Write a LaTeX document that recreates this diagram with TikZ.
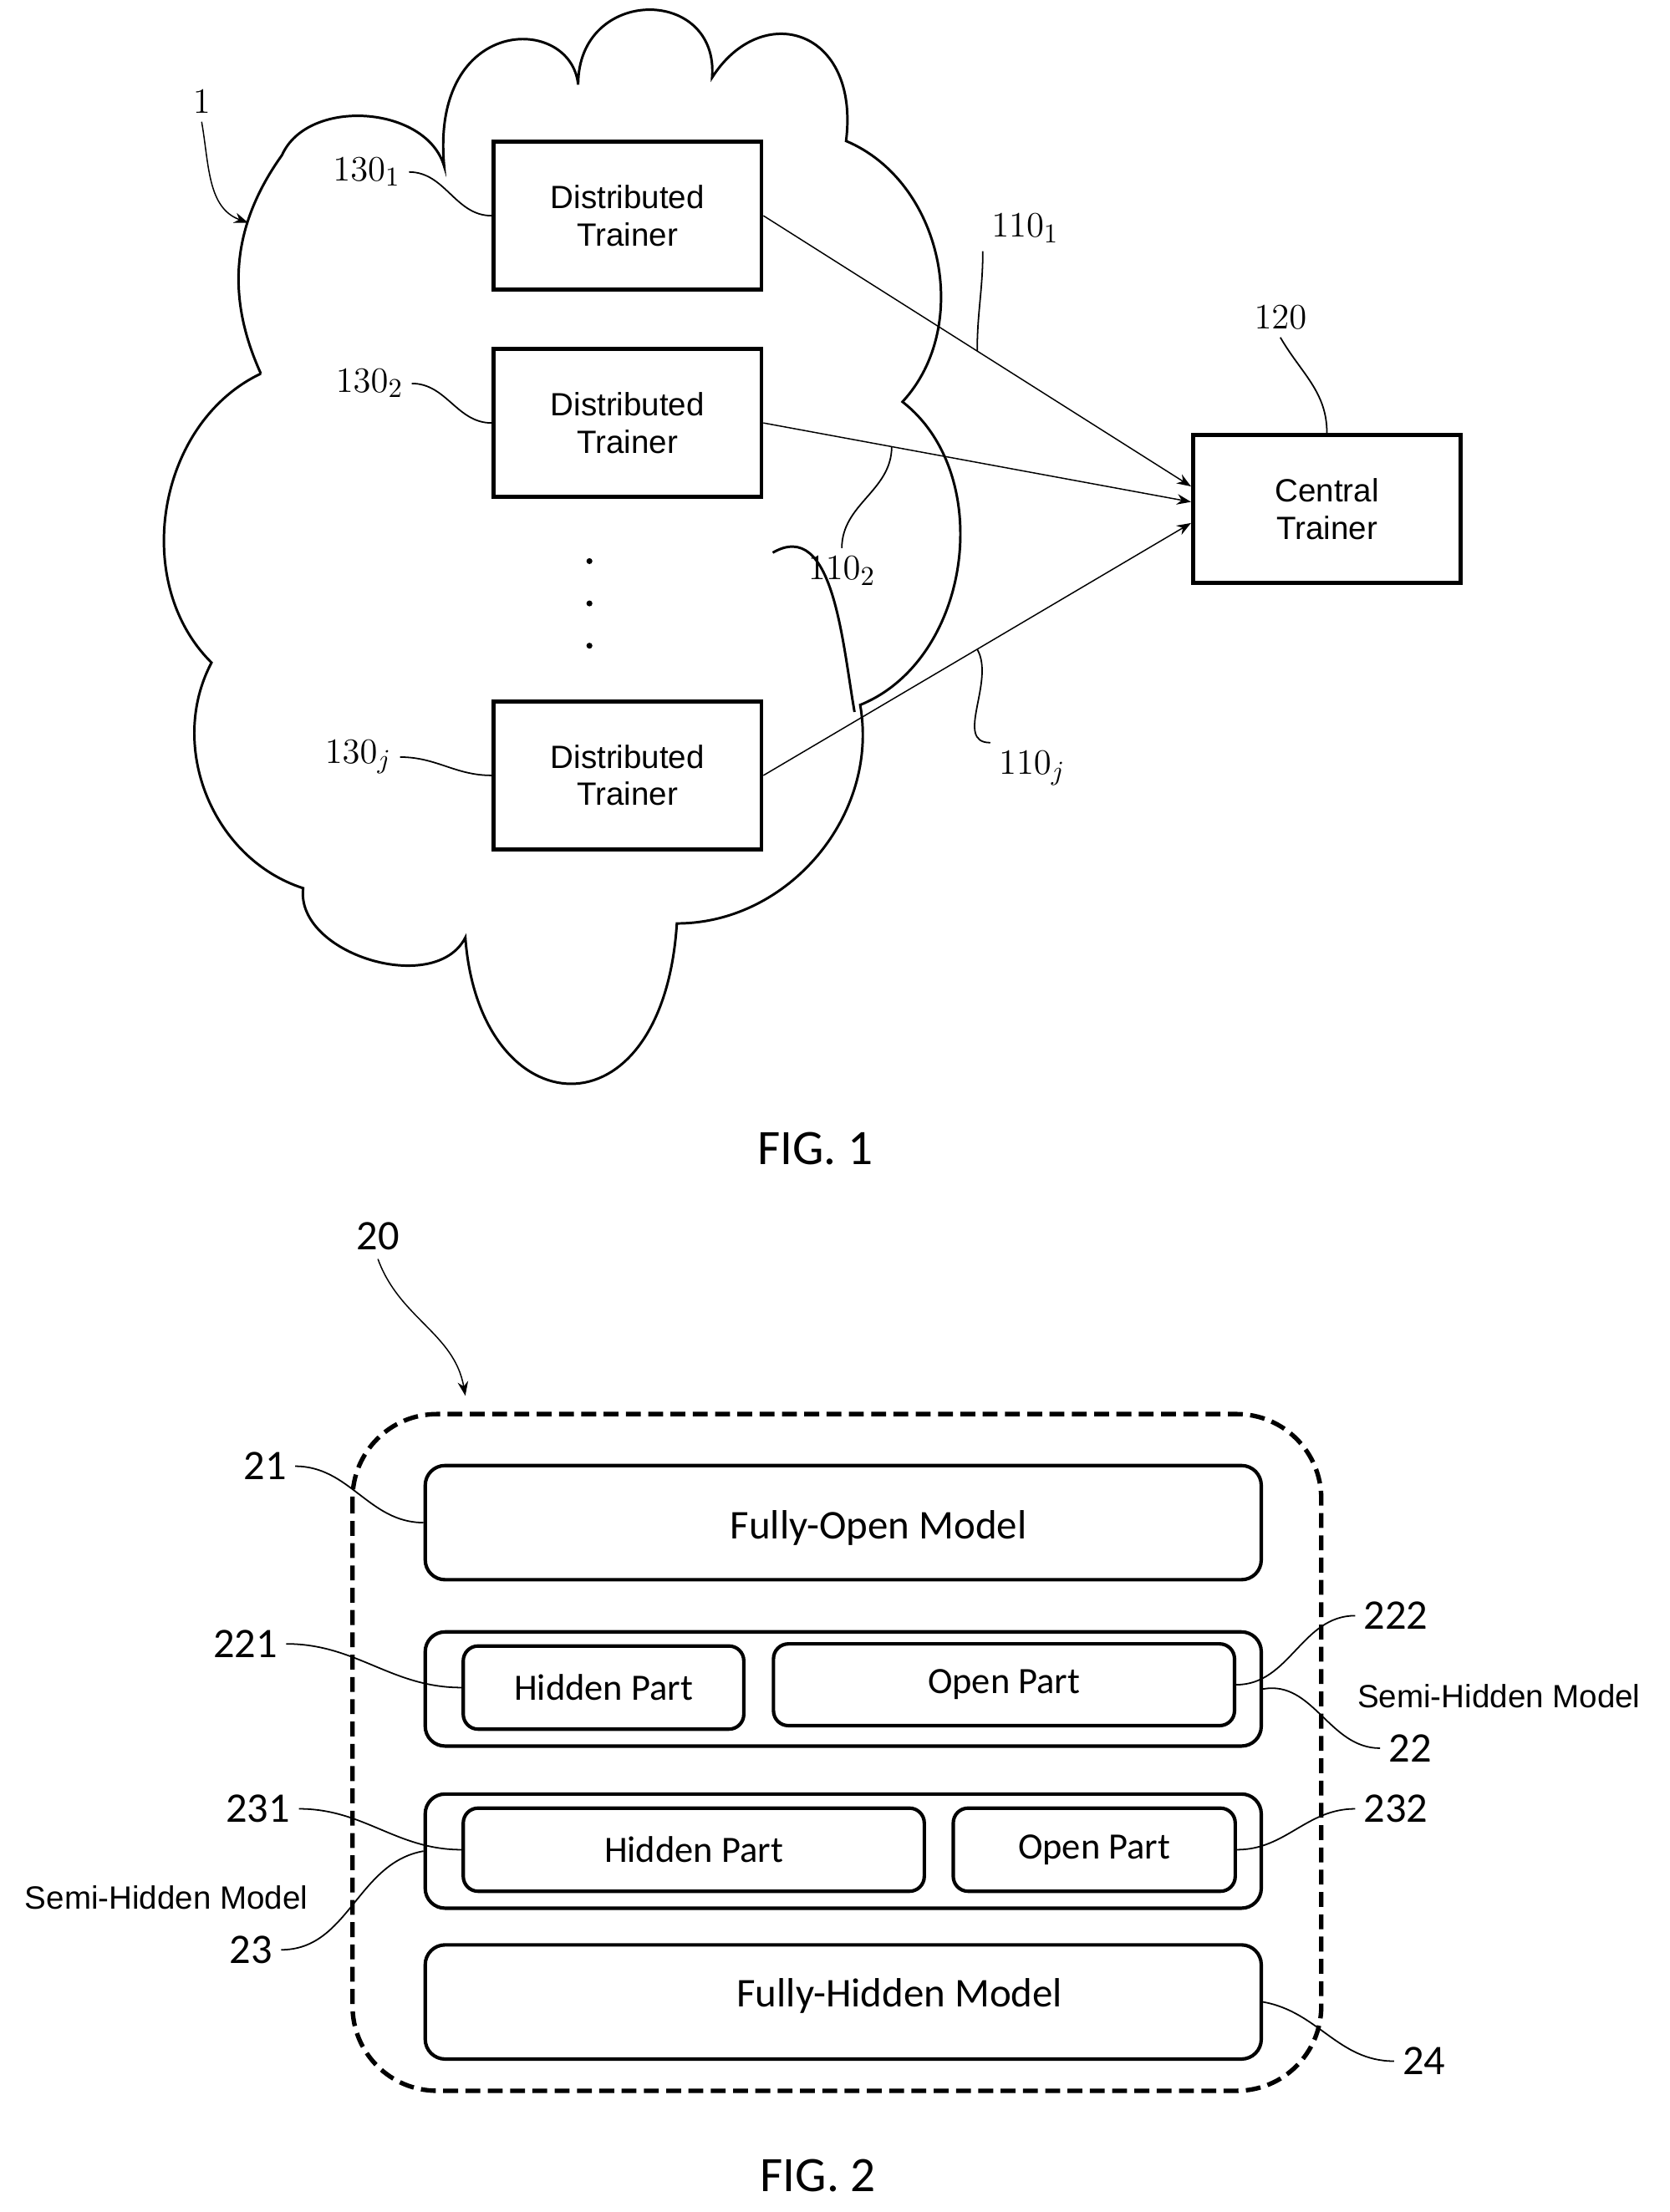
\documentclass[tikz,border=0pt]{standalone}
\usepackage{fontspec}
\setmainfont{Liberation Sans}
\newfontfamily\calfont{Carlito}
\usetikzlibrary{arrows.meta, positioning, calc}

\begin{document}
\begin{tikzpicture}[
    x=0.02cm, y=-0.02cm,
    trainer/.style={rectangle, draw, line width=1.6pt, minimum width=3.8cm, minimum height=2.1cm, align=center, font=\fontsize{13}{15}\selectfont},
    model/.style={rectangle, draw, line width=1.4pt, rounded corners=8pt, minimum width=11.86cm, minimum height=1.62cm, font=\calfont\fontsize{16.5}{19}\selectfont},
    part/.style={rectangle, draw, line width=1.4pt, rounded corners=6pt, minimum height=1.18cm, font=\calfont\fontsize{15}{18}\selectfont},
    num/.style={font=\fontsize{15}{17}\selectfont},
    refnum/.style={font=\calfont\fontsize{17}{20}\selectfont},
    lead/.style={line width=0.6pt},
    arrow/.style={-{Stealth[length=2mm]}, line width=0.5pt}
]
\useasboundingbox (0,0) rectangle (1184,1569);

% Cloud
\draw[line width=1pt] (185,265) to[bend left=30] (200,110) to[bend left=70] (315,118)
    .. controls (305,10) and (405,10) .. (410,60)
    .. controls (410,-10) and (510,-10) .. (505,55)
    .. controls (540,0) and (610,20) .. (600,100)
    to[bend left=55] (640,285) to[bend left=60] (610,500) to[bend left=50] (480,655)
    .. controls (470,810) and (340,800) .. (330,665)
    to[bend left=80] (215,630) to[bend left=50] (150,470)
    to[bend left=55] (185,265);
\draw[line width=1pt] (548,392) to[out=30,in=100] (606,505);

% Trainers
\node[trainer] (dt1) at (445,153) {Distributed\\Trainer};
\node[trainer] (dt2) at (445,300) {Distributed\\Trainer};
\node[trainer] (dtj) at (445,550) {Distributed\\Trainer};
\node[trainer] (ct) at (941,361) {Central\\Trainer};
\foreach \y in {398,428,458} \fill (418,\y) circle (1.2pt);

% Arrows
\draw[arrow] (dt1.east) -- ([yshift=0.32cm]ct.west);
\draw[arrow] (dt2.east) -- ([yshift=0.1cm]ct.west);
\draw[arrow] (dtj.east) -- ([yshift=-0.2cm]ct.west);
\coordinate (a1) at ($(dt1.east)!0.5!([yshift=0.32cm]ct.west)$);
\coordinate (a2) at ($(dt2.east)!0.3!([yshift=0.1cm]ct.west)$);
\coordinate (aj) at ($(dtj.east)!0.5!([yshift=-0.2cm]ct.west)$);

% Labels fig 1
\node[num] (l1) at (143,72) {$1$};
\draw[arrow] (l1.south) to[out=-80,in=160] (176,158);
\node[num] (l130a) at (260,122) {$130_1$};
\draw[lead] (l130a.east) to[out=0,in=180] (dt1.west);
\node[num] (l130b) at (262,272) {$130_2$};
\draw[lead] (l130b.east) to[out=0,in=180] (dt2.west);
\node[num] (l130j) at (254,537) {$130_j$};
\draw[lead] (l130j.east) to[out=0,in=180] (dtj.west);
\node[num] (l110a) at (727,162) {$110_1$};
\draw[lead] (l110a.south west) to[out=-90,in=90] (a1);
\node[num] (l110b) at (597,405) {$110_2$};
\draw[lead] (l110b.north) to[out=90,in=-90] (a2);
\node[num] (l110j) at (732,545) {$110_j$};
\draw[lead] (l110j.north west) to[out=180,in=-60] (aj);
\node[num] (l120) at (908,225) {$120$};
\draw[lead] (l120.south) to[out=-60,in=90] (ct.north);
\node[font=\calfont\fontsize{20}{24}\selectfont] (fig1) at (578,815) {FIG. 1};

% Fig 2
\draw[line width=1.8pt, dash pattern=on 6pt off 3pt, rounded corners=1.2cm] (250,1003) rectangle (937,1483);
\node[model] (m21) at (598,1080) {};
\node[font=\calfont\fontsize{16.5}{19}\selectfont] at (623,1084) {Fully-Open Model};
\node[model] (m22) at (598,1198) {};
\node[part, minimum width=3.98cm] (hp22) at (428,1197) {Hidden Part};
\node[part, minimum width=6.54cm, minimum height=1.16cm] (op22) at (712,1195) {Open Part};
\node[model] (m23) at (598,1313) {};
\node[part, minimum width=6.54cm] (hp23) at (492,1312) {Hidden Part};
\node[part, minimum width=4cm] (op23) at (776,1312) {Open Part};
\node[model] (m24) at (598,1420) {};
\node[font=\calfont\fontsize{16.5}{19}\selectfont] at (638,1416) {Fully-Hidden Model};

% Labels fig 2
\node[refnum] (l20) at (268,877) {20};
\draw[arrow] (l20.south) to[out=-70,in=100] (330,990);
\node[refnum] (l21) at (188,1040) {21};
\draw[lead] (l21.east) to[out=0,in=180] (m21.west);
\node[refnum] (l221) at (174,1166) {221};
\draw[lead] (l221.east) to[out=0,in=180] (hp22.west);
\node[refnum] (l222) at (990,1146) {222};
\draw[lead] (l222.west) to[out=180,in=0] (op22.east);
\node[font=\fontsize{13}{15}\selectfont] (sh22) at (1063,1203) {Semi-Hidden Model};
\node[refnum] (l22) at (1000,1240) {22};
\draw[lead] (m22.east) to[out=10,in=180] (l22.west);
\node[refnum] (l231) at (183,1283) {231};
\draw[lead] (l231.east) to[out=0,in=180] (hp23.west);
\node[refnum] (l232) at (990,1283) {232};
\draw[lead] (l232.west) to[out=180,in=0] (op23.east);
\node[font=\fontsize{13}{15}\selectfont] (sh23) at (118,1346) {Semi-Hidden Model};
\node[refnum] (l23) at (178,1383) {23};
\draw[lead] (l23.east) to[out=0,in=190] (m23.west);
\node[refnum] (l24) at (1010,1462) {24};
\draw[lead] (m24.east) to[out=-10,in=180] (l24.west);
\node[font=\calfont\fontsize{20}{24}\selectfont] (fig2) at (580,1543) {FIG. 2};
\end{tikzpicture}
\end{document}
